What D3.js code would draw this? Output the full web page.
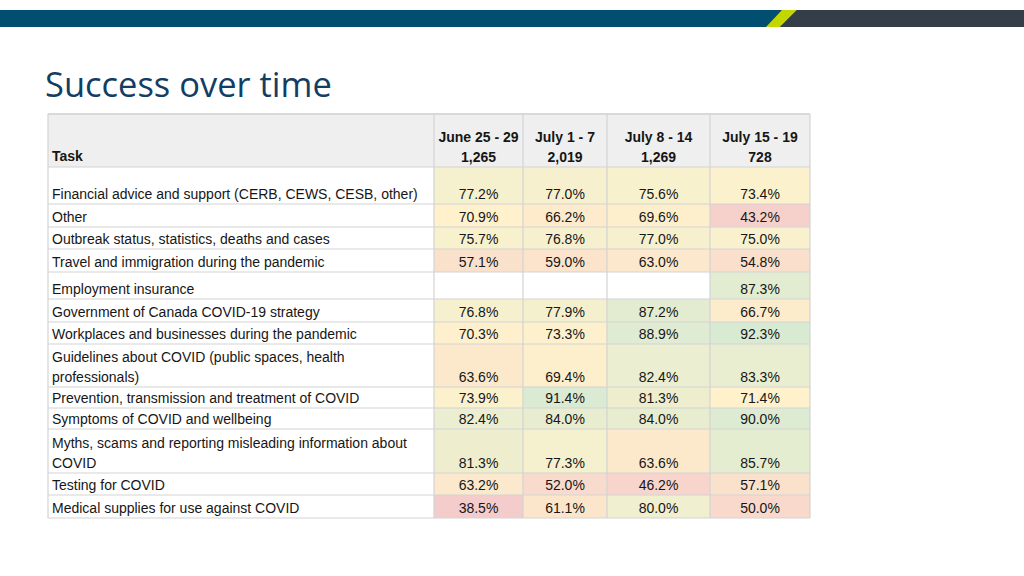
<!DOCTYPE html>
<html>
<head>
<meta charset="utf-8">
<script src="https://cdn.jsdelivr.net/npm/d3@7"></script>
<style>
  html, body { margin: 0; padding: 0; background: #ffffff; }
  svg { display: block; }
</style>
</head>
<body>
<svg id="chart" width="1024" height="576"></svg>
<script>
// ---------------- DATA ----------------
const title = "Success over time";
const taskHeader = "Task";
const periods = ["June 25 - 29", "July 1 - 7", "July 8 - 14", "July 15 - 19"];
const counts = ["1,265", "2,019", "1,269", "728"];
const tasks = [
  "Financial advice and support (CERB, CEWS, CESB, other)",
  "Other",
  "Outbreak status, statistics, deaths and cases",
  "Travel and immigration during the pandemic",
  "Employment insurance",
  "Government of Canada COVID-19 strategy",
  "Workplaces and businesses during the pandemic",
  "Guidelines about COVID (public spaces, health\nprofessionals)",
  "Prevention, transmission and treatment of COVID",
  "Symptoms of COVID and wellbeing",
  "Myths, scams and reporting misleading information about\nCOVID",
  "Testing for COVID",
  "Medical supplies for use against COVID"
];
const june25_29 = [77.2, 70.9, 75.7, 57.1, null, 76.8, 70.3, 63.6, 73.9, 82.4, 81.3, 63.2, 38.5];
const july1_7   = [77.0, 66.2, 76.8, 59.0, null, 77.9, 73.3, 69.4, 91.4, 84.0, 77.3, 52.0, 61.1];
const july8_14  = [75.6, 69.6, 77.0, 63.0, null, 87.2, 88.9, 82.4, 81.3, 84.0, 63.6, 46.2, 80.0];
const july15_19 = [73.4, 43.2, 75.0, 54.8, 87.3, 66.7, 92.3, 83.3, 71.4, 90.0, 85.7, 57.1, 50.0];
const series = [june25_29, july1_7, july8_14, july15_19];

// ---------------- LAYOUT ----------------
const svg = d3.select("#chart");
const FONT = "'Liberation Sans', Arial, sans-serif";
const colEdges = [48, 434, 523, 607, 710, 810];
const tableTop = 114, headerBottom = 167;
// row heights (layout only): extra top padding on first row / employment row
const rowHeights = [37, 23, 22, 23, 27, 23, 22, 43, 21, 21, 44, 22, 23];
const rowEdges = [headerBottom];
rowHeights.forEach(h => rowEdges.push(rowEdges[rowEdges.length - 1] + h));
const gridColor = "#d3d3d3";
const textColor = "#161616";

// ---- top banner ----
svg.append("rect").attr("x", 0).attr("y", 10).attr("width", 1024).attr("height", 17).attr("fill", "#004e70");
svg.append("rect").attr("x", 780).attr("y", 10).attr("width", 244).attr("height", 17).attr("fill", "#333e48");
svg.append("polygon")
  .attr("points", "782,10 797,10 780,27 766,27")
  .attr("fill", "#c4d600");
svg.append("polygon")
  .attr("points", "797,10 800,10 783,27 780,27")
  .attr("fill", "#333e48");

// ---- title ----
const t = svg.append("text")
  .attr("x", 45).attr("y", 97)
  .attr("font-family", "'Open Sans', 'Lato', sans-serif")
  .attr("font-size", 35)
  .attr("fill", "#133e64")
  .text(title);
const tw = t.node().getComputedTextLength();
t.attr("font-size", 35 * 287 / tw);

// ---- color scale (whole table: min -> mean -> max) ----
const allVals = series.flat().filter(d => d != null);
const color = d3.scaleLinear()
  .domain([d3.min(allVals), d3.mean(allVals), d3.max(allVals)])
  .range(["#f4cccc", "#fff2cc", "#d9ead3"])
  .interpolate(d3.interpolateRgb);

// ---- header ----
const g = svg.append("g");
g.append("rect")
  .attr("x", colEdges[0]).attr("y", tableTop)
  .attr("width", colEdges[5] - colEdges[0]).attr("height", headerBottom - tableTop)
  .attr("fill", "#efefef");

// ---- cells ----
series.forEach((vals, ci) => {
  const x0 = colEdges[ci + 1], x1 = colEdges[ci + 2];
  vals.forEach((v, ri) => {
    g.append("rect")
      .attr("x", x0).attr("y", rowEdges[ri])
      .attr("width", x1 - x0).attr("height", rowEdges[ri + 1] - rowEdges[ri])
      .attr("fill", v == null ? "#ffffff" : color(v));
  });
});

// ---- grid lines ----
rowEdges.forEach((y, i) => {
  g.append("line")
    .attr("x1", colEdges[0]).attr("x2", colEdges[5])
    .attr("y1", y).attr("y2", y)
    .attr("stroke", gridColor).attr("stroke-width", 1.2);
});
g.append("line")
  .attr("x1", colEdges[0]).attr("x2", colEdges[5])
  .attr("y1", tableTop).attr("y2", tableTop)
  .attr("stroke", "#d9d9d9").attr("stroke-width", 2);
colEdges.forEach(x => {
  g.append("line")
    .attr("x1", x).attr("x2", x)
    .attr("y1", tableTop).attr("y2", rowEdges[rowEdges.length - 1])
    .attr("stroke", gridColor).attr("stroke-width", 1.2);
});

// ---- header text ----
g.append("text")
  .attr("x", 52).attr("y", 161)
  .attr("font-family", FONT).attr("font-size", 14).attr("font-weight", "bold")
  .attr("fill", textColor).text(taskHeader);
periods.forEach((p, ci) => {
  const cx = (colEdges[ci + 1] + colEdges[ci + 2]) / 2;
  g.append("text")
    .attr("x", cx).attr("y", 142).attr("text-anchor", "middle")
    .attr("font-family", FONT).attr("font-size", 14).attr("font-weight", "bold")
    .attr("fill", textColor).text(p);
  g.append("text")
    .attr("x", cx).attr("y", 162).attr("text-anchor", "middle")
    .attr("font-family", FONT).attr("font-size", 14).attr("font-weight", "bold")
    .attr("fill", textColor).text(counts[ci]);
});

// ---- task text ----
tasks.forEach((task, ri) => {
  const lines = task.split("\n");
  const baseY = rowEdges[ri + 1] - 5.5;
  lines.forEach((ln, li) => {
    g.append("text")
      .attr("x", 52).attr("y", baseY - (lines.length - 1 - li) * 20)
      .attr("font-family", FONT).attr("font-size", 14)
      .attr("fill", textColor).text(ln);
  });
});

// ---- value text ----
const fmt = d3.format(".1f");
series.forEach((vals, ci) => {
  const cx = (colEdges[ci + 1] + colEdges[ci + 2]) / 2;
  vals.forEach((v, ri) => {
    if (v == null) return;
    g.append("text")
      .attr("x", cx).attr("y", rowEdges[ri + 1] - 5.5).attr("text-anchor", "middle")
      .attr("font-family", FONT).attr("font-size", 14)
      .attr("fill", textColor).text(fmt(v) + "%");
  });
});
</script>
</body>
</html>
